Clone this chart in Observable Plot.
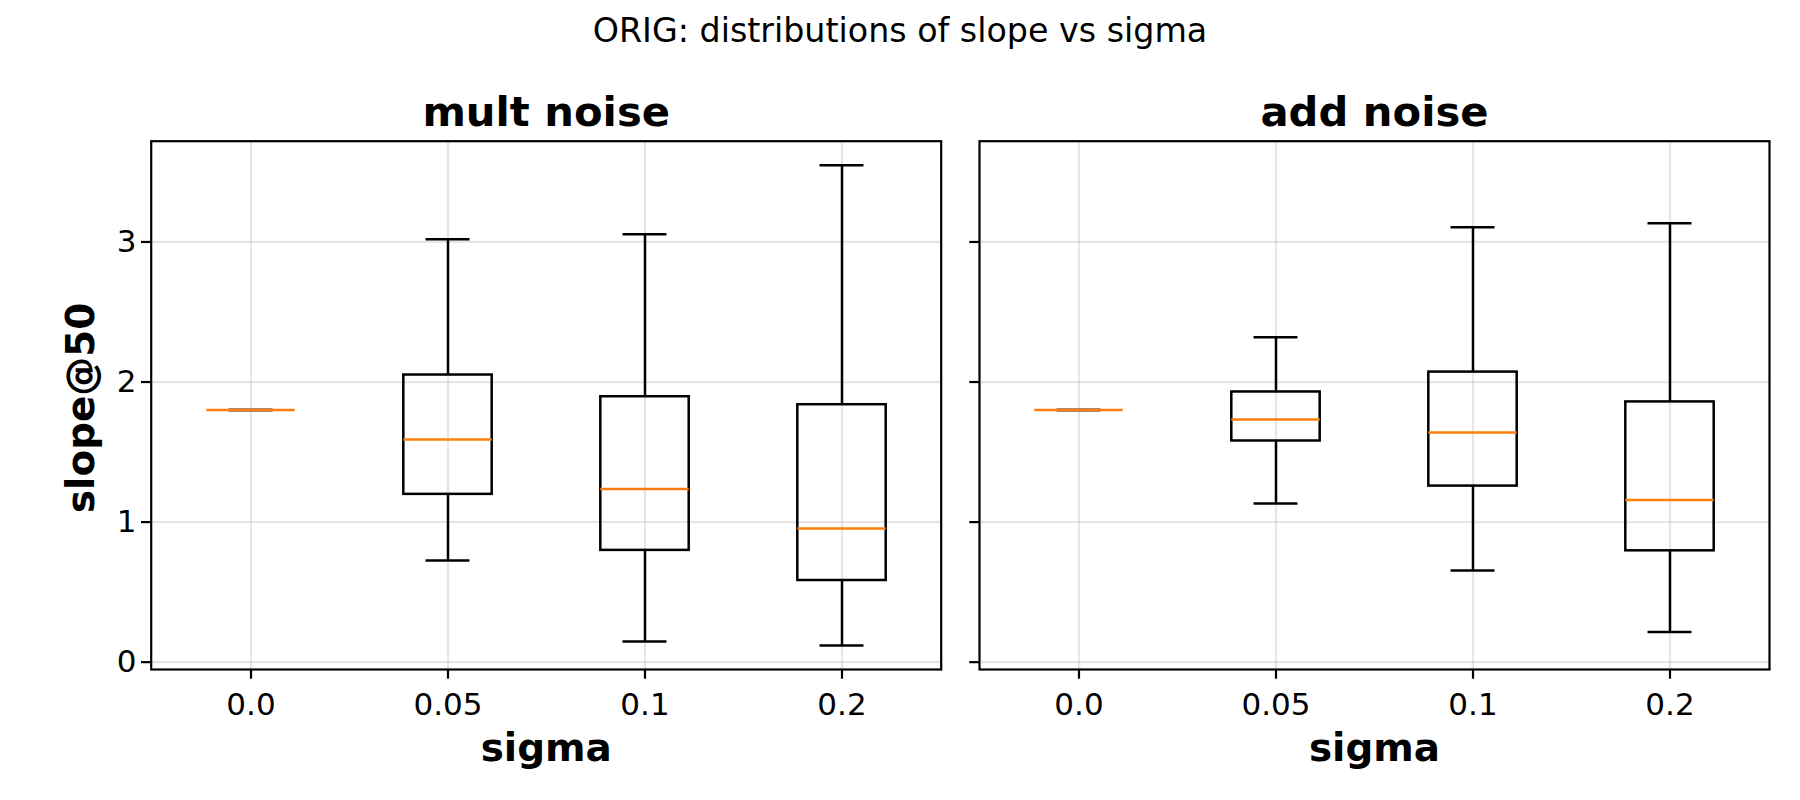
<!DOCTYPE html>
<html>
<head>
<meta charset="utf-8">
<script src="https://cdn.jsdelivr.net/npm/d3@7"></script>
<script src="https://cdn.jsdelivr.net/npm/@observablehq/plot@0.6"></script>
<style>
  body { margin: 0; background: #fff; }
  #wrap { position: relative; width: 1800px; height: 800px; overflow: hidden; font-family: "DejaVu Sans"; background: #fff; }
  #suptitle { position: absolute; left: 0; width: 1800px; text-align: center; top: 14.3px; font-size: 33.3px; line-height: 1; color: #000; }
  #c1 { position: absolute; left: 0; top: 60px; }
  #c2 { position: absolute; left: 960px; top: 60px; }
</style>
</head>
<body>
<div id="wrap">
  <div id="suptitle">ORIG: distributions of slope vs sigma</div>
  <div id="c1"></div>
  <div id="c2"></div>
</div>
<script>
// ---- data ----
const sigmaLabels = ["0.0", "0.05", "0.1", "0.2"];
const yTicks = [0, 1, 2, 3];
const panelTitles = ["mult noise", "add noise"];
const xLabel = "sigma";
const yLabel = "slope@50";

// mult noise: whisker low, Q1, median, Q3, whisker high
const multLow  = [1.80, 0.726, 0.148, 0.119];
const multQ1   = [1.80, 1.198, 0.798, 0.583];
const multMed  = [1.80, 1.590, 1.236, 0.955];
const multQ3   = [1.80, 2.050, 1.895, 1.838];
const multHigh = [1.80, 3.019, 3.055, 3.548];

// add noise
const addLow  = [1.80, 1.133, 0.655, 0.216];
const addQ1   = [1.80, 1.579, 1.257, 0.795];
const addMed  = [1.80, 1.733, 1.640, 1.158];
const addQ3   = [1.80, 1.929, 2.071, 1.858];
const addHigh = [1.80, 2.319, 3.105, 3.134];

// shared y domain (matplotlib-like 5% margins)
const allLow = Math.min(...multLow, ...addLow);
const allHigh = Math.max(...multHigh, ...addHigh);
const pad = 0.05 * (allHigh - allLow);
const yDomain = [allLow - pad, allHigh + pad];

const GRID = "#b0b0b0";
const LW = 2.5;
const TICK_FONT = 31;

function panel({title, low, q1, med, q3, high, width, marginLeft, marginRight, first}) {
  const rows = sigmaLabels.map((s, i) => ({sigma: s, low: low[i], q1: q1[i], med: med[i], q3: q3[i], high: high[i]}));
  const height = 740, marginTop = 80.7, marginBottom = 131;
  const plotW = width - marginLeft - marginRight;
  const step = plotW / sigmaLabels.length;
  const boxInset = step * (1 - 0.45) / 2;
  const capInset = step * (1 - 0.225) / 2;
  const marks = [
    Plot.gridY({ticks: yTicks, stroke: GRID, strokeOpacity: 0.32, strokeWidth: 2.2}),
    Plot.ruleX(sigmaLabels, {x: d => d, stroke: GRID, strokeOpacity: 0.32, strokeWidth: 2.2}),
    Plot.ruleX(rows, {x: "sigma", y1: "low", y2: "q1", stroke: "black", strokeWidth: LW}),
    Plot.ruleX(rows, {x: "sigma", y1: "q3", y2: "high", stroke: "black", strokeWidth: LW}),
    Plot.tickY(rows, {x: "sigma", y: "low", insetLeft: capInset, insetRight: capInset, stroke: "black", strokeWidth: LW}),
    Plot.tickY(rows, {x: "sigma", y: "high", insetLeft: capInset, insetRight: capInset, stroke: "black", strokeWidth: LW}),
    Plot.barY(rows, {x: "sigma", y1: "q1", y2: "q3", insetLeft: boxInset, insetRight: boxInset, fill: "none", stroke: "black", strokeWidth: LW}),
    Plot.tickY(rows, {x: "sigma", y: "med", insetLeft: boxInset, insetRight: boxInset, stroke: "#ff7f0e", strokeWidth: LW}),
    Plot.frame({stroke: "black", strokeWidth: 2.2}),
    Plot.axisX({tickSize: 9.7, tickPadding: 13.3, fontSize: TICK_FONT, strokeWidth: 2.2, label: null}),
    Plot.axisY({ticks: yTicks, tickSize: 9.7, tickPadding: 5, fontSize: TICK_FONT, strokeWidth: 2.2, label: null,
                tickFormat: first ? (d => String(d)) : (() => "")}),
    Plot.text([title], {text: d => d, frameAnchor: "top", lineAnchor: "bottom", dy: -15.7, fontSize: 41.7, fontWeight: "bold", fill: "black"}),
    Plot.text([xLabel], {text: d => d, frameAnchor: "bottom", lineAnchor: "bottom", dy: 91, fontSize: 38.9, fontWeight: "bold", fill: "black"})
  ];
  if (first) {
    marks.push(Plot.text([yLabel], {text: d => d, frameAnchor: "left", textAnchor: "middle", rotate: -90, lineAnchor: "bottom", dx: -57.7, dy: 2.5, fontSize: 38.9, fontWeight: "bold", fill: "black"}));
  }
  return Plot.plot({
    width, height, marginLeft, marginRight, marginTop, marginBottom,
    style: {fontFamily: "DejaVu Sans", color: "black", background: "white", overflow: "visible"},
    x: {type: "band", domain: sigmaLabels, padding: 0},
    y: {domain: yDomain},
    marks
  });
}

document.getElementById("c1").append(panel({
  title: panelTitles[0], low: multLow, q1: multQ1, med: multMed, q3: multQ3, high: multHigh,
  width: 960, marginLeft: 150.7, marginRight: 19.3, first: true
}));
document.getElementById("c2").append(panel({
  title: panelTitles[1], low: addLow, q1: addQ1, med: addMed, q3: addQ3, high: addHigh,
  width: 840, marginLeft: 19, marginRight: 31, first: false
}));
</script>
</body>
</html>
